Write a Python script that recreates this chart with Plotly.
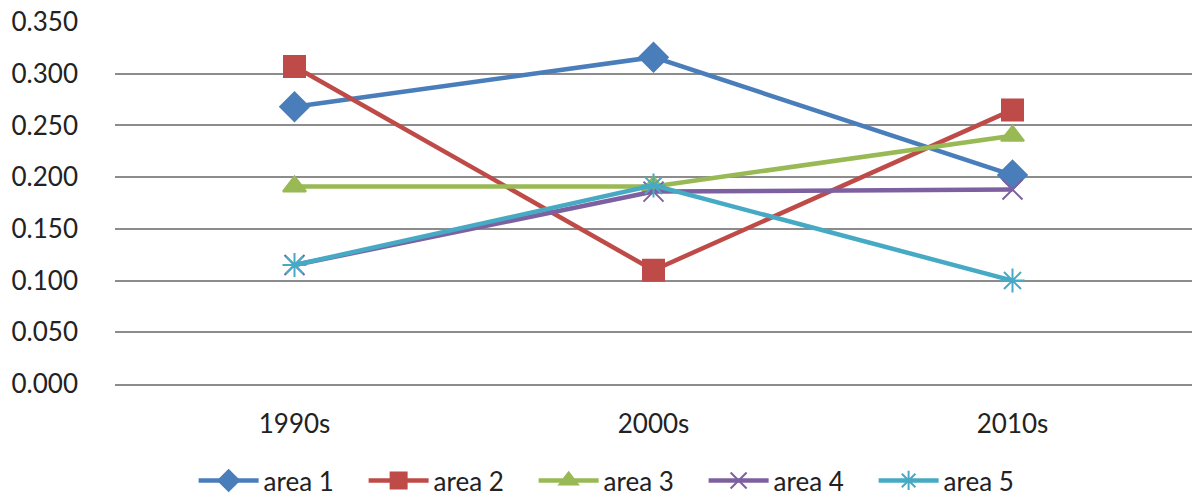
import plotly.graph_objects as go

categories = ["1990s", "2000s", "2010s"]
area1 = [0.268, 0.316, 0.202]
area2 = [0.307, 0.110, 0.265]
area3 = [0.191, 0.191, 0.240]
area4 = [0.115, 0.186, 0.188]
area5 = [0.115, 0.192, 0.100]
y_ticks = [0.0, 0.05, 0.10, 0.15, 0.20, 0.25, 0.30, 0.35]
y_tick_labels = ["0.000", "0.050", "0.100", "0.150", "0.200", "0.250", "0.300", "0.350"]

series = [
    ("area 1", area1, "#4A7EBB", "diamond", 22),
    ("area 2", area2, "#BE4B48", "square", 21),
    ("area 3", area3, "#98B954", "triangle-up", 20),
    ("area 4", area4, "#7D60A0", "x-thin-open", 20),
    ("area 5", area5, "#46AAC5", "asterisk-open", 20),
]

fig = go.Figure()
for name, vals, color, sym, size in series:
    fig.add_trace(go.Scatter(
        x=categories, y=vals, name=name, mode="lines+markers",
        line=dict(color=color, width=4.5),
        marker=dict(symbol=sym, size=size, color=color,
                    line=dict(color=color, width=2)),
    ))

fig.update_layout(
    width=1192, height=498,
    margin=dict(l=115, r=0, t=22, b=114),
    plot_bgcolor="white", paper_bgcolor="white",
    font=dict(family="Lato", size=26, color="#222222"),
    showlegend=True,
    legend=dict(orientation="h", x=0.073, xanchor="left",
                yref="container", y=0.035, yanchor="middle",
                font=dict(size=26, color="#222222"), entrywidth=95, itemwidth=60,
                tracegroupgap=0),
)
fig.update_xaxes(
    type="category", range=[-0.5, 2.5], showgrid=False, automargin=False,
    showline=True, linecolor="#8c8c8c", linewidth=1.5,
    ticks="", ticklabelstandoff=16,
)
fig.update_yaxes(
    range=[0, 0.35], tickvals=y_ticks, ticktext=y_tick_labels, automargin=False,
    showgrid=True, gridcolor="#8c8c8c", gridwidth=1.5,
    zeroline=False, showline=False, ticks="", ticklabelstandoff=36,
)

fig.write_html("out.html", config={"displayModeBar": False},
               post_script="document.body.style.margin='0';")
